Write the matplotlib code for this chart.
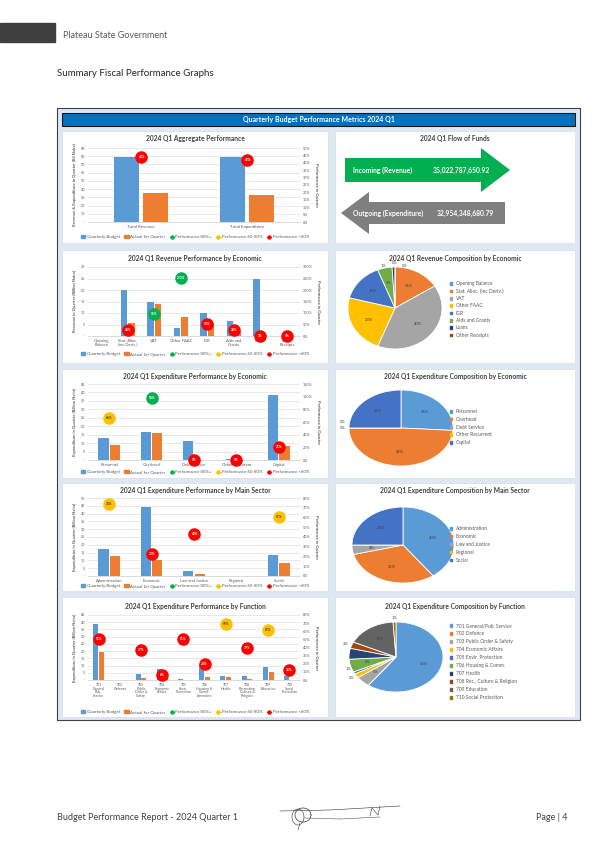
import matplotlib
matplotlib.use('Agg')
import matplotlib.pyplot as plt
from matplotlib.patches import Rectangle, Polygon, Patch
from matplotlib.lines import Line2D
import numpy as np

plt.rcParams['font.family'] = ['Lato', 'DejaVu Sans']

W, H = 595, 842

# ---------------- data ----------------
agg_cats = ['Total Revenue', 'Total Expenditure']
agg_budget = [79.0, 78.5]
agg_actual = [35.0, 33.0]
agg_perf = [44, 42]

rev_cats = ['Opening\nBalance', 'Stat. Alloc.\n(inc Deriv.)', 'VAT', 'Other FAAC', 'IGR',
            'Aids and\nGrants', 'Loans', 'Other\nReceipts']
rev_budget = [0, 20.1, 14.6, 3.3, 9.9, 6.6, 24.6, 0.05]
rev_actual = [0, 5.6, 14.0, 8.4, 5.2, 1.9, 0.3, 0]
rev_perf = [None, 28, 96, 253, 53, 28, 1, 0]
rev_legend = ['Opening Balance', 'Stat. Alloc. (inc Deriv.)', 'VAT', 'Other FAAC', 'IGR',
              'Aids and Grants', 'Loans', 'Other Receipts']
rev_share = [0, 16, 40, 23, 15, 5, 1, 0]

eco_cats = ['Personnel', 'Overhead', 'Debt Service', 'Other Recurrent', 'Capital']
eco_budget = [13.1, 16.3, 11.2, 0.3, 38.3]
eco_actual = [8.6, 16.0, 0, 0, 8.1]
eco_perf = [66, 98, 0, 0, 21]
eco_share = [26, 49, 0, 0, 25]

sec_cats = ['Administration', 'Economic', 'Law and Justice', 'Regional', 'Social']
sec_budget = [17.6, 44.4, 2.9, 0, 13.2]
sec_actual = [12.9, 10.3, 1.3, 0, 8.1]
sec_perf = [74, 23, 43, None, 61]
sec_share = [40, 31, 4, 0, 25]

fn_cats = ['701\nGeneral\nPub.\nService', '702\nDefence', '703\nPublic\nOrder &\nSafety',
           '704\nEconomic\nAffairs', '705\nEnvir.\nProtection', '706\nHousing &\nComm.\nAmenities',
           '707\nHealth', '708\nRecreation,\nCulture &\nReligion', '709\nEducation',
           '710\nSocial\nProtection']
fn_budget = [38.9, 0, 4.0, 7.7, 0.6, 11.0, 2.6, 2.6, 9.1, 2.6]
fn_actual = [19.7, 0, 1.5, 0.5, 0.3, 2.1, 1.8, 1.0, 5.6, 0.3]
fn_perf = [51, None, 37, 6, 51, 20, 69, 39, 61, 12]
fn_legend = ['701 General/Pub. Service', '702 Defence', '703 Public Order & Safety',
             '704 Economic Affairs', '705 Envir. Protection', '706 Housing & Comm.',
             '707 Health', '708 Rec., Culture & Religion', '709 Education',
             '710 Social Protection']
fn_share = [60, 0, 5, 2, 1, 6, 5, 3, 17, 1]

flow_in_label = 'Incoming (Revenue)'
flow_in_value = '35,022,787,650.92'
flow_out_label = 'Outgoing (Expenditure)'
flow_out_value = '32,954,348,680.79'

legend_labels = ['Quarterly Budget', 'Actual for Quarter', 'Performance 80%+',
                 'Performance 60-80%', 'Performance <60%']

# ---------------- styles ----------------
BLUE = '#5B9BD5'
ORANGE = '#ED7D31'
GREEN = '#00B050'
YELLOW = '#FFC000'
RED = '#FF0000'
PIE_COLORS = ['#5B9BD5', '#ED7D31', '#A5A5A5', '#FFC000', '#4472C4', '#70AD47',
              '#264478', '#9E480E', '#636363', '#997300']
TXT = '#595959'

fig = plt.figure(figsize=(W / 100, H / 100), dpi=100)
bg = fig.add_axes([0, 0, 1, 1])
bg.set_xlim(0, W)
bg.set_ylim(H, 0)
bg.axis('off')


def ax_px(x0, y0, x1, y1):
    return fig.add_axes([x0 / W, 1 - y1 / H, (x1 - x0) / W, (y1 - y0) / H])


# header
bg.add_patch(Rectangle((0, 23), 55, 19, color='#404040'))
bg.text(63, 35, 'Plateau State Government', fontsize=6.5, color='#595959', va='center')
bg.text(57, 73, 'Summary Fiscal Performance Graphs', fontsize=7, color='#262626', va='center')

# frame
bg.add_patch(Rectangle((57, 108), 523, 612, facecolor='#DEE8F3', edgecolor='#404040', lw=0.8))
bg.add_patch(Rectangle((62, 113), 513, 13, facecolor='#0070C0', edgecolor='#1a1a1a', lw=0.8))
bg.text(318.5, 119.5, 'Quarterly Budget Performance Metrics 2024 Q1', color='white',
        fontsize=5, fontweight='bold', ha='center', va='center')

rows = [(131, 243), (250, 363), (369, 478), (483, 591), (597, 717)]
for y0, y1 in rows:
    bg.add_patch(Rectangle((62, y0), 266, y1 - y0, facecolor='white', edgecolor='#D0D8E0', lw=0.4))
    bg.add_patch(Rectangle((335, y0), 240, y1 - y0, facecolor='white', edgecolor='#D0D8E0', lw=0.4))


def perf_color(p):
    if p >= 80:
        return GREEN
    if p >= 60:
        return YELLOW
    return RED


def bar_chart(box, cats, budget, actual, perf, ymax, ystep, pmax, pstep,
              title, ylabel, title_y, legend_y, xfs=3.0):
    x0, y0, x1, y1 = box
    ax = ax_px(x0, y0, x1, y1)
    x = np.arange(len(cats))
    w = 0.24
    ax.bar(x - 0.135, budget, w, color=BLUE, zorder=3)
    ax.bar(x + 0.135, actual, w, color=ORANGE, zorder=3)
    ax.set_xlim(-0.5, len(cats) - 0.5)
    ax.set_ylim(0, ymax)
    yt = np.arange(0, ymax + 0.01, ystep)
    ax.set_yticks(yt)
    ax.set_yticklabels(['-' if v == 0 else f'{v:g}' for v in yt])
    ax.grid(axis='y', color='#D9D9D9', lw=0.4, zorder=0)
    ax.set_axisbelow(True)
    for s in ['top', 'right', 'left']:
        ax.spines[s].set_visible(False)
    ax.spines['bottom'].set_color('#BFBFBF')
    ax.spines['bottom'].set_linewidth(0.4)
    ax.tick_params(length=0, labelsize=2.7, colors=TXT, pad=2)
    ax.set_xticks(x)
    ax.set_xticklabels(cats, fontsize=xfs, linespacing=0.95, va='top')
    ax.set_ylabel(ylabel, fontsize=3.0, fontweight='bold', color=TXT, labelpad=3)
    ax2 = ax.twinx()
    ax2.set_ylim(0, pmax)
    pt = np.arange(0, pmax + 0.01, pstep)
    ax2.set_yticks(pt)
    ax2.set_yticklabels([f'{v:g}%' for v in pt])
    for s in ['top', 'right', 'left', 'bottom']:
        ax2.spines[s].set_visible(False)
    ax2.tick_params(length=0, labelsize=2.7, colors=TXT, pad=2)
    ax2.set_ylabel('Performance in Quarter', fontsize=3.0, fontweight='bold', color=TXT,
                   rotation=270, labelpad=6)
    for i, p in enumerate(perf):
        if p is None:
            continue
        c = perf_color(p)
        ax2.plot(i, p, 'o', ms=8, color=c, zorder=5, clip_on=False, mec=c)
        ax2.text(i, p, f'{p}%', ha='center', va='center', fontsize=2.3, fontweight='bold',
                 color='#404040' if c == YELLOW else 'white', zorder=6)
    bg.text(195, title_y, title, fontsize=4.8, fontweight='bold', color='#404040',
            ha='center', va='center')
    handles = [Patch(color=BLUE), Patch(color=ORANGE),
               Line2D([], [], color=GREEN, marker='o', ms=2.2, lw=0.6),
               Line2D([], [], color=YELLOW, marker='o', ms=2.2, lw=0.6),
               Line2D([], [], color=RED, marker='o', ms=2.2, lw=0.6)]
    fig.legend(handles, legend_labels, ncol=5, loc='center',
               bbox_to_anchor=(195 / W, 1 - legend_y / H), fontsize=3.2, frameon=False,
               handlelength=1.0, handleheight=0.6, columnspacing=1.0, handletextpad=0.3,
               labelcolor=TXT, borderpad=0)


def pie_chart(center, rx, ry, shares, labels, show_zero, title, title_y, legend_y, spacing):
    cx, cy = center
    ax = ax_px(cx - rx, cy - ry, cx + rx, cy + ry)
    cols = PIE_COLORS[:len(shares)]
    wedges, _ = ax.pie(shares, colors=cols, startangle=90, counterclock=False,
                       wedgeprops=dict(edgecolor='white', linewidth=0.6))
    ax.set_aspect('auto')
    ax.set_xlim(-1, 1)
    ax.set_ylim(-1, 1)
    placed = []
    ncoll = 0
    for wdg, s in zip(wedges, shares):
        if s == 0 and not show_zero:
            continue
        th = np.deg2rad((wdg.theta1 + wdg.theta2) / 2)
        if s >= 4:
            r = 0.62
            px, py = r * np.cos(th) * rx, r * np.sin(th) * ry
        else:
            px, py = (rx + 6) * np.cos(th), (ry + 4) * np.sin(th)
            for _ in range(4):
                hit = any(abs(px - qx) < 9 and abs(py - qy) < 5 for qx, qy in placed)
                if not hit:
                    break
                if abs(np.cos(th)) > abs(np.sin(th)):
                    py += 6
                else:
                    ncoll += 1
                    px += -10 if ncoll % 2 == 1 else 10
                    py -= 3
            placed.append((px, py))
        ax.text(px / rx, py / ry, f'{s}%', ha='center', va='center', fontsize=2.9,
                color='#404040')
    bg.text(455, title_y, title, fontsize=4.8, fontweight='bold', color='#404040',
            ha='center', va='center')
    handles = [Patch(color=c) for c in cols]
    fig.legend(handles, labels, loc='upper left', bbox_to_anchor=(450 / W, 1 - legend_y / H),
               fontsize=3.5, frameon=False, handlelength=0.45, handleheight=0.45,
               handletextpad=0.7, labelspacing=spacing, labelcolor=TXT, borderpad=0,
               borderaxespad=0)


bar_chart((88, 148, 300, 222), agg_cats, agg_budget, agg_actual, agg_perf, 90, 10, 50, 5,
          '2024 Q1 Aggregate Performance', 'Revenue & Expenditure in Quarter (Bil Naira)', 139, 237,
          xfs=3.2)
bar_chart((88, 267, 300, 336), rev_cats, rev_budget, rev_actual, rev_perf, 30, 5, 300, 50,
          '2024 Q1 Revenue Performance by Economic', 'Revenue in Quarter (Billion Naira)', 258, 354)
bar_chart((88, 384, 300, 460), eco_cats, eco_budget, eco_actual, eco_perf, 45, 5, 120, 20,
          '2024 Q1 Expenditure Performance by Economic', 'Expenditure in Quarter (Billion Naira)', 376, 472)
bar_chart((88, 498, 300, 576), sec_cats, sec_budget, sec_actual, sec_perf, 50, 5, 80, 10,
          '2024 Q1 Expenditure Performance by Main Sector', 'Expenditure in Quarter (Billion Naira)', 490, 586)
bar_chart((88, 615, 300, 680), fn_cats, fn_budget, fn_actual, fn_perf, 45, 5, 80, 10,
          '2024 Q1 Expenditure Performance by Function', 'Expenditure in Quarter (Billion Naira)', 607, 712,
          xfs=2.5)

pie_chart((395, 308), 47, 41, rev_share, rev_legend, True,
          '2024 Q1 Revenue Composition by Economic', 258, 281, 0.48)
pie_chart((401, 428), 52, 38, eco_share, eco_cats, True,
          '2024 Q1 Expenditure Composition by Economic', 376, 409, 0.58)
pie_chart((403, 545), 51, 38, sec_share, sec_cats, False,
          '2024 Q1 Expenditure Composition by Main Sector', 490, 526, 0.6)
pie_chart((396, 657), 47, 35, fn_share, fn_legend, False,
          '2024 Q1 Expenditure Composition by Function', 607, 623, 0.62)

# flow of funds
bg.text(455, 139, '2024 Q1 Flow of Funds', fontsize=4.8, fontweight='bold', color='#404040',
        ha='center', va='center')
bg.add_patch(Polygon([(345, 158), (481, 158), (481, 148), (510, 170), (481, 192), (481, 182),
                      (345, 182)], closed=True, color=GREEN, lw=0))
bg.add_patch(Polygon([(505, 202), (369, 202), (369, 192), (341, 213), (369, 234), (369, 224),
                      (505, 224)], closed=True, color='#7F7F7F', lw=0))
bg.text(353, 170, flow_in_label, fontsize=4.9, fontweight='bold', color='white', va='center')
bg.text(433, 170, flow_in_value, fontsize=4.9, fontweight='bold', color='white', va='center')
bg.text(353, 213, flow_out_label, fontsize=4.9, fontweight='bold', color='white', va='center')
bg.text(437, 213, flow_out_value, fontsize=4.9, fontweight='bold', color='white', va='center')

# footer
bg.text(57, 817, 'Budget Performance Report - 2024 Quarter 1', fontsize=6.5, color='#404040',
        va='center')
bg.text(567, 817, 'Page | 4', fontsize=6.5, color='#404040', va='center', ha='right')
# signature (decorative strokes)
t = np.linspace(0, 2 * np.pi, 60)
bg.plot(303 + 8 * np.cos(t), 815 + 7 * np.sin(t), color='#333333', lw=0.5)
bg.plot(298 + 6 * np.cos(t), 817 + 8 * np.sin(t), color='#333333', lw=0.4)
bg.plot([280, 330, 400], [811, 810, 806], color='#333333', lw=0.4)
bg.plot([305, 340, 380], [818, 819, 817], color='#555555', lw=0.4)
bg.plot([370, 372, 378, 380], [816, 808, 815, 806], color='#333333', lw=0.4)
bg.plot([300, 298], [823, 830], color='#333333', lw=0.4)

fig.savefig('out.png', dpi=100)
